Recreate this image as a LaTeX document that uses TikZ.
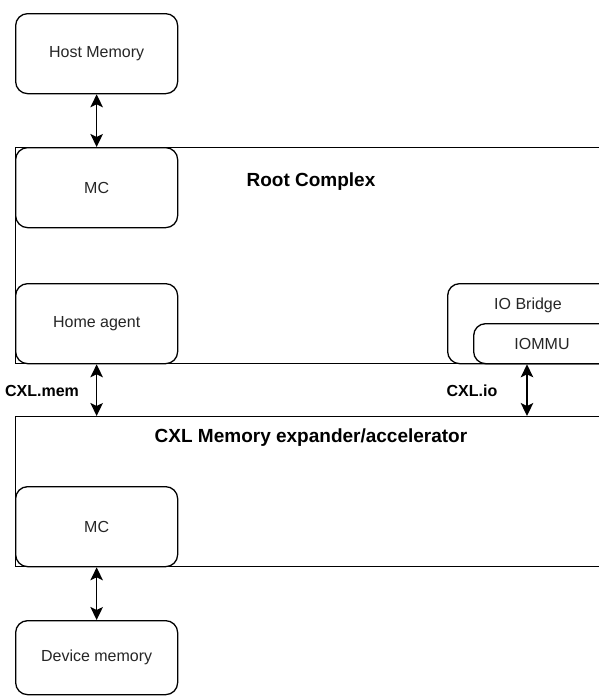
\documentclass[tikz,border=0pt]{standalone}
\usepackage{fontspec}
\setmainfont{Liberation Sans}
\usetikzlibrary{arrows.meta}

\begin{document}
\begin{tikzpicture}[x=1pt, y=-1pt,
  every node/.style={font=\fontsize{16}{19}\selectfont, text=black!85},
  unit/.style={draw, line width=1.3pt, rounded corners=12pt, fill=white,
               minimum width=162pt, minimum height=80pt, anchor=north west, inner sep=0pt},
  container/.style={draw, line width=1.3pt, anchor=north west, inner sep=0pt},
  heading/.style={font=\bfseries\fontsize{19}{22}\selectfont, text=black},
  linklabel/.style={font=\bfseries\fontsize{16}{19}\selectfont, text=black},
  tip/.style={Stealth[length=13pt,width=12.5pt,inset=3pt]},
  biarrow/.style={line width=1.4pt, {Stealth[length=13pt,width=12.5pt,inset=3pt]}-{Stealth[length=13pt,width=12.5pt,inset=3pt]}}
]
\useasboundingbox (0,0) rectangle (599,696);
\clip (0,0) rectangle (599,696);

% host side containers (open to the right)
\node[container, minimum width=640pt, minimum height=216pt] (rc) at (15,147) {};
\node[container, minimum width=640pt, minimum height=150pt] (cxl) at (15,416) {};

% blocks
\node[unit] (host) at (15,13) {};
\node at (host.center) {Host Memory};
\node[unit] (mc1) at (15,147) {};
\node at (mc1.center) {MC};
\node[unit] (ha) at (15,283) {};
\node at (ha.center) {Home agent};
\node[unit, minimum width=200pt] (iob) at (447,283) {};
\node (iobl) at (528,305) {IO Bridge};
\node[unit, minimum width=180pt, minimum height=40pt] (iommu) at (473,323) {};
\node (iommul) at (542,344) {IOMMU};
\node[unit] (mc2) at (15,486) {};
\node at (mc2.center) {MC};
\node[unit, minimum height=74pt] (dev) at (15,620) {};
\node at (dev.center) {Device memory};

% container titles
\node[heading] (rcl) at (311,182) {Root Complex};
\node[heading] (cxll) at (311,438) {CXL Memory expander/accelerator};

% links
\draw[biarrow] (host.south) -- (mc1.north);
\draw[biarrow] (ha.south) -- (ha.south |- cxl.north);
\draw[biarrow] ([xshift=54pt]iommu.south west) -- ([xshift=54pt]iommu.south west |- cxl.north);
\draw[biarrow] (mc2.south) -- (dev.north);

\node[linklabel] (memlbl) at (42,391) {CXL.mem};
\node[linklabel] (iolbl) at (472,391) {CXL.io};
\end{tikzpicture}
\end{document}
